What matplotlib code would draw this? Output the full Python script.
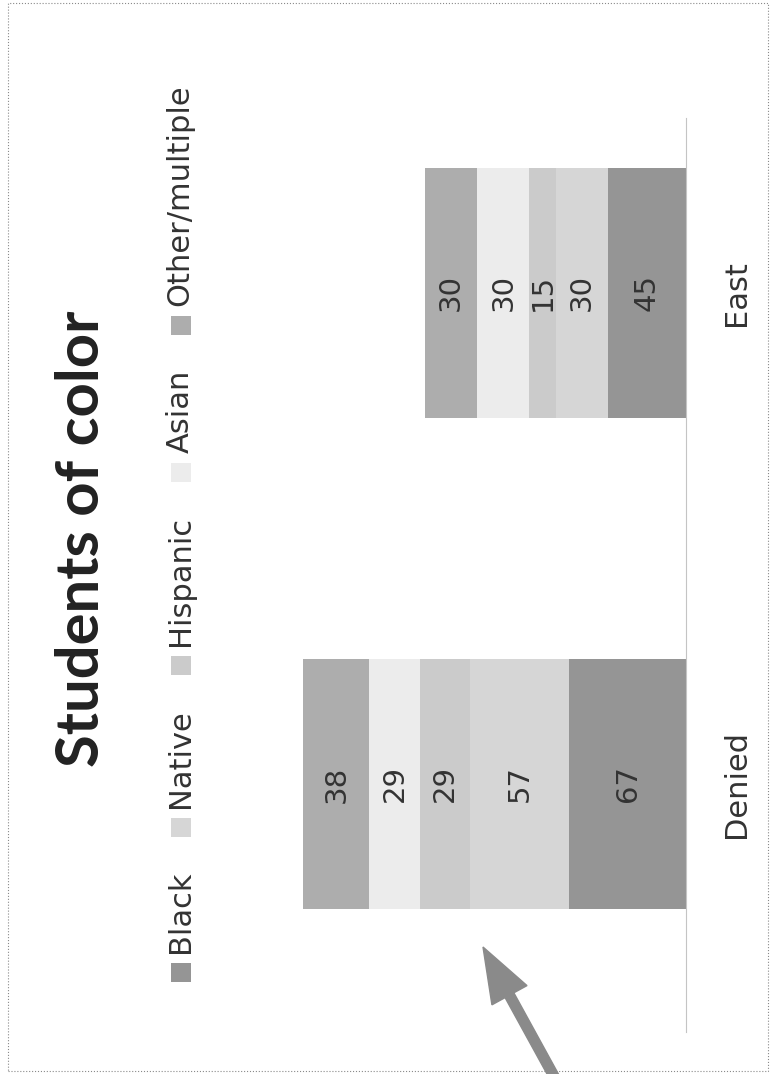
import matplotlib
matplotlib.use("Agg")
import matplotlib.pyplot as plt
from matplotlib.patches import Rectangle, FancyArrow

# Data
categories = ["East", "Denied"]
series = ["Black", "Native", "Hispanic", "Asian", "Other/multiple"]
black = [45, 67]
native = [30, 57]
hispanic = [15, 29]
asian = [30, 29]
other = [30, 38]
values = [black, native, hispanic, asian, other]
colors = ["#959595", "#d6d6d6", "#cbcbcb", "#ececec", "#adadad"]

W, H = 771, 1074
fig = plt.figure(figsize=(W / 100, H / 100), dpi=100)
fig.patch.set_facecolor("white")


def fx(px):
    return px / W


def fy(py):
    return 1 - py / H


# Chart drawn turned on its side: bars grow leftwards from the baseline
ax = fig.add_axes([fx(251), fy(1032), fx(686) - fx(251), fy(118) - fy(1032)])
pos = list(range(len(categories)))
left = [0] * len(categories)
for name, vals, col in zip(series, values, colors):
    bars = ax.barh(pos, vals, left=left, height=0.51, color=col, label=name)
    ax.bar_label(bars, label_type="center", rotation=90, fontsize=21,
                 color="#333333")
    left = [a + b for a, b in zip(left, vals)]

ax.set_xlim(250, 0)
ax.set_ylim(1.505, -0.356)
for s in ["left", "top", "bottom"]:
    ax.spines[s].set_visible(False)
ax.spines["right"].set_color("#c4c4c4")
ax.spines["right"].set_linewidth(0.8)
ax.set_xticks([])
ax.yaxis.tick_right()
ax.set_yticks(pos, categories, rotation=90, fontsize=22, color="#333333")
for lbl in ax.get_yticklabels():
    lbl.set_va("center")
ax.tick_params(axis="y", length=0, pad=26)

# Title
fig.text(fx(82), fy(539), "Students of color", rotation=90, ha="center",
         va="center", fontsize=43, fontweight="bold", family="Lato",
         color="#222222")

# Legend, laid out from the bottom upwards
renderer = fig.canvas.get_renderer()
y_cursor = 982  # bottom of first marker, in image pixels
mw, mh = 20, 19
for name, col in zip(series, colors):
    fig.add_artist(Rectangle((fx(181 - mw / 2), fy(y_cursor)), fx(mw),
                             mh / H, transform=fig.transFigure,
                             facecolor=col, edgecolor="none"))
    top_marker = y_cursor - mh
    t = fig.text(fx(180), fy(top_marker - 10), name, rotation=90,
                 ha="center", va="bottom", fontsize=22, color="#333333")
    bb = t.get_window_extent(renderer=renderer)
    y_cursor = top_marker - 10 - bb.height - 34

# Pointer arrow
fig.add_artist(FancyArrow(5.56, (H - 1080) / 100, -0.73, 1.33, width=0.10,
                          head_width=0.40, head_length=0.55,
                          length_includes_head=True, color="#8a8a8a",
                          transform=fig.dpi_scale_trans))

# Page border
fig.add_artist(Rectangle((0.08, (H - 1071) / 100), 7.60, 10.68,
                         transform=fig.dpi_scale_trans, fill=False,
                         linestyle=":", edgecolor="#8a8a8a", linewidth=0.8))

fig.savefig("out.png", dpi=100)
